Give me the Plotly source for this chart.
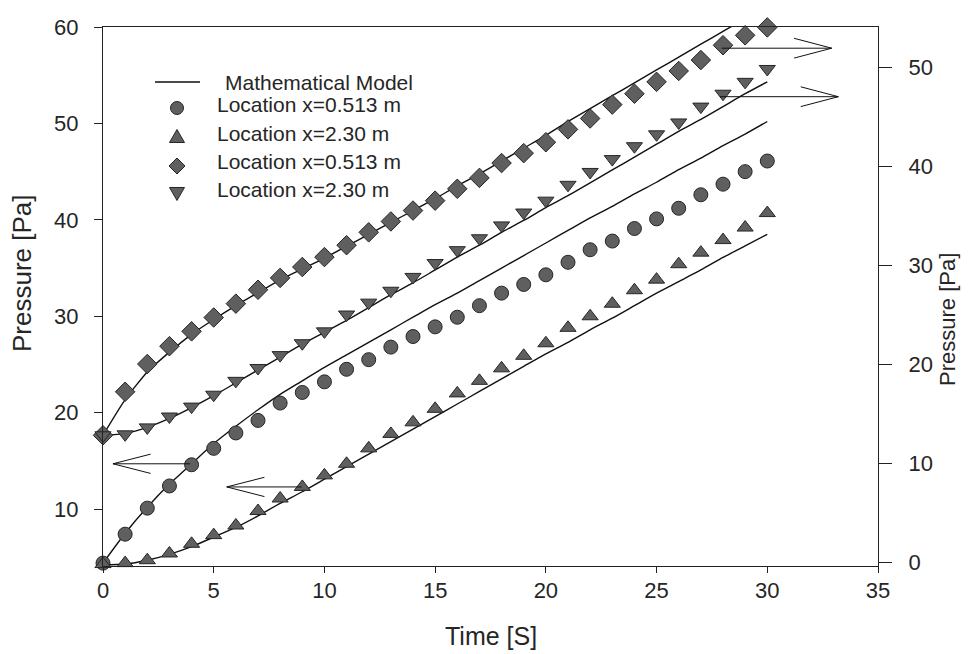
import plotly.graph_objects as go

# Time axis (s) and measured pressures
time_s = list(range(31))

# Left axis: experiment 1
circle_x0513 = [4.4, 7.4, 10.1, 12.4, 14.6, 16.3, 17.9, 19.2, 21.0, 22.1, 23.2,
                24.5, 25.5, 26.8, 27.9, 28.9, 29.9, 31.1, 32.4, 33.3, 34.3,
                35.6, 36.9, 37.8, 39.1, 40.1, 41.2, 42.6, 43.7, 45.0, 46.1]
triangle_x230 = [4.3, 4.4, 4.7, 5.4, 6.4, 7.3, 8.3, 9.8, 11.1, 12.3, 13.5,
                 14.7, 16.3, 17.8, 19.0, 20.4, 22.0, 23.3, 24.6, 25.9, 27.2,
                 28.8, 30.0, 31.3, 32.7, 33.8, 35.4, 36.6, 37.9, 39.2, 40.7]

# Right axis: experiment 2
diamond_x0513 = [12.8, 17.2, 20.0, 21.8, 23.3, 24.7, 26.1, 27.5, 28.7, 29.8, 30.8,
                 32.0, 33.3, 34.4, 35.5, 36.5, 37.7, 38.8, 40.3, 41.3, 42.4,
                 43.7, 44.8, 46.2, 47.3, 48.5, 49.6, 50.7, 52.2, 53.2, 54.0]
tridown_x230 = [12.8, 12.9, 13.6, 14.7, 15.7, 16.9, 18.3, 19.6, 20.9, 22.1, 23.3,
                25.0, 26.2, 27.4, 28.8, 30.2, 31.5, 32.7, 34.0, 35.3, 36.5,
                38.1, 39.4, 40.7, 42.0, 43.2, 44.4, 46.0, 47.3, 48.5, 49.8]

# Mathematical model curves
model_left_x0513 = [4.4, 7.5, 10.2, 12.6, 14.7, 16.8, 18.6, 20.3, 21.9, 23.3, 24.7,
                    26.0, 27.3, 28.6, 29.9, 31.2, 32.4, 33.7, 35.0, 36.3, 37.6,
                    38.9, 40.2, 41.4, 42.7, 43.9, 45.2, 46.4, 47.7, 48.9, 50.2]
model_left_x230 = [4.2, 4.3, 4.7, 5.3, 6.1, 7.1, 8.1, 9.3, 10.6, 11.8, 13.1,
                   14.4, 15.7, 17.0, 18.3, 19.6, 20.9, 22.2, 23.5, 24.8, 26.1,
                   27.3, 28.6, 29.8, 31.1, 32.4, 33.6, 34.8, 36.1, 37.3, 38.5]
model_right_x0513 = [12.8, 16.4, 19.2, 21.2, 23.0, 24.5, 25.9, 27.2, 28.5, 29.6, 30.7,
                     31.9, 33.1, 34.3, 35.5, 36.7, 38.0, 39.2, 40.5, 41.8, 43.1,
                     44.5, 45.8, 47.1, 48.4, 49.7, 51.0, 52.3, 53.6, 54.9, 56.2]
model_right_x230 = [12.8, 13.0, 13.6, 14.5, 15.6, 16.8, 18.1, 19.4, 20.7, 22.0, 23.2,
                    24.4, 25.7, 27.0, 28.2, 29.5, 30.8, 32.0, 33.3, 34.5, 35.8,
                    37.0, 38.3, 39.6, 40.9, 42.2, 43.5, 44.7, 46.0, 47.3, 48.5]

# Axis-pointer arrows: (axis, tail time, tip time, pressure level)
arrow_axes = ["y", "y", "y2", "y2"]
arrow_tail = [3.93, 8.97, 27.94, 27.87]
arrow_tip = [0.45, 5.59, 32.91, 33.21]
arrow_level = [14.7, 12.3, 51.9, 47.0]

x_ticks = [0, 5, 10, 15, 20, 25, 30, 35]
left_ticks = [10, 20, 30, 40, 50, 60]
right_ticks = [0, 10, 20, 30, 40, 50]

legend_labels = ["Mathematical Model", "Location x=0.513 m", "Location x=2.30 m",
                 "Location x=0.513 m", "Location x=2.30 m"]
legend_symbols = ["line", "circle", "triangle-up", "diamond", "triangle-down"]

FONT = "Liberation Sans, Arial, sans-serif"
INK = "#262626"
MARK_FILL = "#5f5f5f"
MARK_EDGE = "#262626"

# Figure geometry (pixels)
FIG_W, FIG_H = 969, 654
M_L, M_R, M_T, M_B = 103, 91, 27, 88
PLOT_W = FIG_W - M_L - M_R
PLOT_H = FIG_H - M_T - M_B


def paper_x(px):
    return (px - M_L) / PLOT_W


def paper_y(py):
    return (FIG_H - M_B - py) / PLOT_H


fig = go.Figure()

model_sets = [(model_left_x0513, "y"), (model_left_x230, "y"),
              (model_right_x0513, "y2"), (model_right_x230, "y2")]
for vals, ax in model_sets:
    fig.add_trace(go.Scatter(
        x=time_s, y=vals, yaxis=ax, mode="lines",
        line=dict(color="#111111", width=1.4, shape="spline", smoothing=0.6),
        name="Mathematical Model", showlegend=False, hoverinfo="skip",
    ))

marker_sets = [
    (circle_x0513, "y", "circle", 14),
    (triangle_x230, "y", "triangle-up", 14),
    (diamond_x0513, "y2", "diamond", 15),
    (tridown_x230, "y2", "triangle-down", 14),
]
for (vals, ax, sym, size), name in zip(marker_sets, legend_labels[1:]):
    fig.add_trace(go.Scatter(
        x=time_s, y=vals, yaxis=ax, mode="markers", name=name,
        cliponaxis=False, showlegend=False,
        marker=dict(symbol=sym, size=size, color=MARK_FILL,
                    line=dict(color=MARK_EDGE, width=1)),
    ))

shapes = []

# Open arrowheads drawn as line segments
barb_back = 1.7
barb_spread = 1.0
for ax, tail, tip, lvl in zip(arrow_axes, arrow_tail, arrow_tip, arrow_level):
    direction = 1 if tip > tail else -1
    back = tip - direction * barb_back
    segs = [(tail, lvl, tip, lvl),
            (tip, lvl, back, lvl + barb_spread),
            (tip, lvl, back, lvl - barb_spread)]
    for x0, y0, x1, y1 in segs:
        shapes.append(dict(type="line", xref="x", yref=ax, x0=x0, y0=y0, x1=x1, y1=y1,
                           line=dict(color="#111111", width=1)))

# Legend box drawn by hand (symbol column + text column)
sym_x = 177
text_x = [223, 215, 215, 215, 215]
text_y = [82, 104, 133, 161, 189]
sym_y = [82, 108, 137, 166, 193]


def poly(points):
    pts = [f"{paper_x(x):.5f},{paper_y(y):.5f}" for x, y in points]
    return "M " + " L ".join(pts) + " Z"


for sym, sy in zip(legend_symbols, sym_y):
    style = dict(xref="paper", yref="paper", fillcolor=MARK_FILL,
                 line=dict(color=MARK_EDGE, width=1))
    if sym == "line":
        shapes.append(dict(type="line", xref="paper", yref="paper",
                           x0=paper_x(155), x1=paper_x(200),
                           y0=paper_y(sy), y1=paper_y(sy),
                           line=dict(color="#111111", width=1.4)))
    elif sym == "circle":
        r = 6.5
        shapes.append(dict(type="circle", x0=paper_x(sym_x - r), x1=paper_x(sym_x + r),
                           y0=paper_y(sy + r), y1=paper_y(sy - r), **style))
    elif sym == "triangle-up":
        shapes.append(dict(type="path", path=poly([(sym_x, sy - 7.5), (sym_x + 7.5, sy + 5.5),
                                                   (sym_x - 7.5, sy + 5.5)]), **style))
    elif sym == "diamond":
        shapes.append(dict(type="path", path=poly([(sym_x, sy - 8), (sym_x + 8, sy),
                                                   (sym_x, sy + 8), (sym_x - 8, sy)]), **style))
    else:
        shapes.append(dict(type="path", path=poly([(sym_x - 7.5, sy - 5.5), (sym_x + 7.5, sy - 5.5),
                                                   (sym_x, sy + 7.5)]), **style))

annotations = []
for label, tx, ty in zip(legend_labels, text_x, text_y):
    annotations.append(dict(text=label, xref="paper", yref="paper",
                            x=paper_x(tx), y=paper_y(ty), xanchor="left", yanchor="middle",
                            showarrow=False, font=dict(family=FONT, size=21, color=INK)))

annotations += [
    dict(text="Time [S]", xref="paper", yref="paper", x=0.5, y=paper_y(636),
         xanchor="center", yanchor="middle", showarrow=False,
         font=dict(family=FONT, size=25, color=INK)),
    dict(text="Pressure [Pa]", xref="paper", yref="paper", x=paper_x(22), y=paper_y(273),
         xanchor="center", yanchor="middle", textangle=-90, showarrow=False,
         font=dict(family=FONT, size=26, color=INK)),
    dict(text="Pressure [Pa]", xref="paper", yref="paper", x=paper_x(947), y=paper_y(320),
         xanchor="center", yanchor="middle", textangle=-90, showarrow=False,
         font=dict(family=FONT, size=22, color=INK)),
]

tick_font = dict(family=FONT, size=22, color=INK)

fig.update_layout(
    width=FIG_W, height=FIG_H,
    margin=dict(l=M_L, r=M_R, t=M_T, b=M_B),
    paper_bgcolor="white", plot_bgcolor="white",
    showlegend=False,
    xaxis=dict(
        range=[0, 35], tickvals=x_ticks, showgrid=False, zeroline=False,
        showline=True, linecolor="#222", linewidth=1.2, mirror=True,
        ticks="outside", ticklen=6, tickcolor="#222",
        tickfont=tick_font, ticklabelstandoff=-2,
    ),
    yaxis=dict(
        range=[4.1, 60], tickvals=left_ticks, showgrid=False, zeroline=False,
        showline=True, linecolor="#222", linewidth=1.2,
        ticks="outside", ticklen=8, tickcolor="#222",
        tickfont=tick_font, ticklabelstandoff=11,
    ),
    yaxis2=dict(
        range=[-0.4, 54.04], tickvals=right_ticks, overlaying="y", side="right",
        showgrid=False, zeroline=False,
        showline=True, linecolor="#222", linewidth=1.2,
        ticks="outside", ticklen=13, tickcolor="#222",
        tickfont=tick_font, ticklabelstandoff=12,
    ),
    shapes=shapes,
    annotations=annotations,
)

fig.write_html("out.html")
